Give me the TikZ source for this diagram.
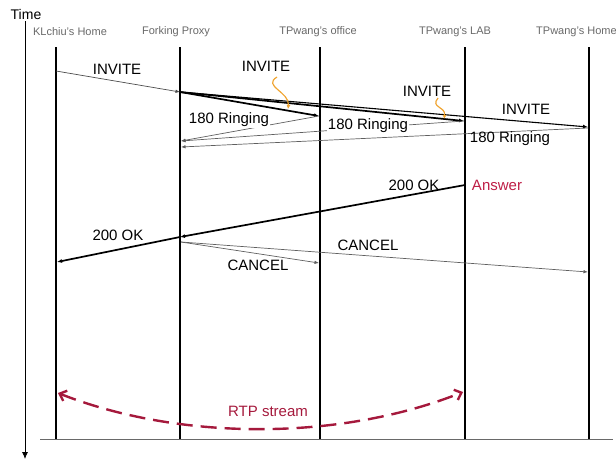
\documentclass[tikz,border=0pt]{standalone}
\usepackage{fontspec}
\setmainfont{Liberation Sans}
\usetikzlibrary{arrows.meta}
\definecolor{hdrgray}{RGB}{105,105,105}
\definecolor{msggray}{RGB}{95,95,95}
\definecolor{rtpred}{RGB}{165,25,60}
\definecolor{answerred}{RGB}{190,30,70}
\definecolor{noteorange}{RGB}{240,165,50}

\begin{document}
\begin{tikzpicture}[x=1pt,y=-1pt,
  header/.style={font=\fontsize{11}{13}\selectfont, text=hdrgray, inner sep=0pt},
  msglabel/.style={font=\fontsize{15}{17}\selectfont, inner sep=0pt},
  lifeline/.style={line width=2pt},
  thinmsg/.style={draw=msggray, line width=0.7pt, -{Latex[length=4.5pt,width=3.5pt]}},
  midmsg/.style={line width=1.1pt, -{Latex[length=5pt,width=4pt]}},
  boldmsg/.style={line width=1.7pt, -{Latex[length=5pt,width=4pt]}},
  notearrow/.style={draw=noteorange, line width=1.2pt, -{Latex[length=4pt,width=4pt]}},
  rtparrow/.style={draw=rtpred, line width=2.4pt, dash pattern=on 16pt off 8pt,
                   {Straight Barb[length=6pt,width=11pt]}-{Straight Barb[length=6pt,width=11pt]}}
]
\useasboundingbox (0,0) rectangle (616,461);

% time axis
\node[font=\fontsize{14}{16}\selectfont, inner sep=0pt] (time) at (26,14) {Time};
\coordinate (tTop) at (25,21);
\coordinate (tBot) at (25,459);
\draw[line width=0.8pt, -{Latex[length=7pt,width=6pt]}] (tTop) -- (tBot);

% headers
\node[header] (hK) at (70,32)  {KLchiu's Home};
\node[header] (hP) at (176,32) {Forking Proxy};
\node[header] (hO) at (318,32) {TPwang's office};
\node[header] (hL) at (455,32) {TPwang's LAB};
\node[header, anchor=west] (hH) at (536,32) {TPwang's Home};

% lifelines
\foreach \n/\x in {K/56, P/180, O/320, L/465, H/589} {
  \coordinate (\n top) at (\x,47);
  \coordinate (\n bot) at (\x,439);
  \draw[lifeline] (\n top) -- (\n bot);
}
\coordinate (baseL) at (40,439);
\coordinate (baseR) at (613,439);
\draw[draw=hdrgray, line width=0.8pt] (baseL) -- (baseR);

% message end points
\coordinate (K1) at (56,71);
\coordinate (P1) at (180,92);
\coordinate (O1) at (319,116);
\coordinate (L1) at (464,121);
\coordinate (H1) at (588,127);
\coordinate (Pr1) at (181,141);
\coordinate (Pr2) at (181,147);
\coordinate (H2) at (588,128);
\coordinate (L2) at (465,185);
\coordinate (P2) at (180,237);
\coordinate (K2) at (57,262);
\coordinate (P3) at (181,242);
\coordinate (O3) at (319,263);
\coordinate (H3) at (588,272);

% INVITE requests
\draw[thinmsg, draw=black!70] (K1) -- (P1);
\draw[boldmsg] (P1) -- (O1);
\draw[boldmsg] (P1) -- (L1);
\draw[midmsg] (P1) -- (H1);
\node[msglabel] (lInv1) at (117,69)  {INVITE};
\node[msglabel] (lInv2) at (266,66)  {INVITE};
\node[msglabel] (lInv3) at (427,91)  {INVITE};
\node[msglabel] (lInv4) at (526,109) {INVITE};

% forking notes
\coordinate (n1a) at (277,77);
\coordinate (n1b) at (288,109);
\draw[notearrow] (n1a) .. controls (262,86) and (290,92) .. (n1b);
\coordinate (n2a) at (438,98);
\coordinate (n2b) at (444,119);
\draw[notearrow] (n2a) .. controls (430,108) and (446,106) .. (n2b);

% provisional responses
\draw[thinmsg] (O1) -- (Pr1);
\draw[thinmsg] (L1) -- (Pr1);
\draw[thinmsg] (H2) -- (Pr2);
\node[msglabel, fill=white, inner sep=1pt] (lRing1) at (229,120) {180 Ringing};
\node[msglabel, fill=white, inner sep=1pt] (lRing2) at (368,126) {180 Ringing};
\node[msglabel] (lRing3) at (510,139) {180 Ringing};

% final response
\draw[boldmsg] (L2) -- (P2);
\draw[boldmsg] (P2) -- (K2);
\node[msglabel] (lOk1) at (414,185) {200 OK};
\node[msglabel, text=answerred] (lAns) at (497,185) {Answer};
\node[msglabel] (lOk2) at (118,235) {200 OK};

% cancellations
\draw[thinmsg] (P3) -- (O3);
\draw[thinmsg] (P3) -- (H3);
\node[msglabel] (lCan1) at (368,245) {CANCEL};
\node[msglabel] (lCan2) at (258,265) {CANCEL};

% media
\coordinate (rK) at (58,393);
\coordinate (rL) at (463,392);
\draw[rtparrow] (rK) .. controls (180,441) and (340,441) .. (rL);
\node[msglabel, text=rtpred] (lRtp) at (268,411) {RTP stream};
\end{tikzpicture}
\end{document}
